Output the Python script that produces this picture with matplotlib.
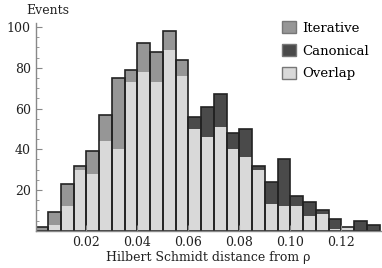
import matplotlib.pyplot as plt
import numpy as np
from matplotlib.patches import Patch
from matplotlib.ticker import MultipleLocator

plt.rcParams['font.family'] = ['DejaVu Serif']

# bin edges: 0 .. 0.135, width 0.005
bin_width = 0.005
bin_left = np.arange(27) * bin_width

iterative = [2, 9, 23, 32, 39, 57, 75, 79, 92, 88, 98, 84, 50, 46,
             51, 40, 36, 30, 13, 12, 12, 7, 8, 1, 2, 0, 0]
canonical = [0, 3, 12, 30, 28, 44, 40, 73, 78, 73, 89, 76, 56, 61,
             67, 48, 50, 32, 24, 35, 17, 14, 10, 6, 2, 5, 3]

it = np.array(iterative)
ca = np.array(canonical)
overlap = np.minimum(it, ca)
total = np.maximum(it, ca)

c_overlap = '#d9d9d9'
c_iter = '#969696'
c_canon = '#4a4a4a'

fig = plt.figure(figsize=(3.82, 2.68), dpi=100)
ax = fig.add_axes([0.093, 0.139, 0.904, 0.775])

ax.bar(bin_left, overlap, width=bin_width, align='edge', color=c_overlap, linewidth=0)
ax.bar(bin_left, it - overlap, bottom=overlap, width=bin_width, align='edge',
       color=c_iter, linewidth=0)
ax.bar(bin_left, ca - overlap, bottom=overlap, width=bin_width, align='edge',
       color=c_canon, linewidth=0)
ax.bar(bin_left, total, width=bin_width, align='edge', fill=False,
       edgecolor='#222222', linewidth=1.2)

ax.set_xlim(0, 0.1355)
ax.set_ylim(0, 102)
ax.set_xticks([0.02, 0.04, 0.06, 0.08, 0.10, 0.12])
ax.set_xticklabels(['0.02', '0.04', '0.06', '0.08', '0.10', '0.12'])
ax.set_yticks([20, 40, 60, 80, 100])
ax.yaxis.set_minor_locator(MultipleLocator(5))
ax.tick_params(which='both', direction='in', colors='#888888', labelcolor='#222222',
               labelsize=9)
ax.tick_params(which='major', length=4)
ax.tick_params(which='minor', length=2)

for s in ['top', 'right']:
    ax.spines[s].set_visible(False)
for s in ['left', 'bottom']:
    ax.spines[s].set_color('#888888')
    ax.spines[s].set_linewidth(1.0)

ax.set_xlabel('Hilbert Schmidt distance from ρ', fontsize=9, color='#222222', labelpad=2)
fig.text(0.07, 0.96, 'Events', fontsize=9, color='#222222', va='center', ha='left')

handles = [Patch(facecolor=c_iter, edgecolor='#777777', label='Iterative'),
           Patch(facecolor=c_canon, edgecolor='#777777', label='Canonical'),
           Patch(facecolor=c_overlap, edgecolor='#777777', label='Overlap')]
ax.legend(handles=handles, loc='upper right', frameon=False, fontsize=9.5,
          handlelength=1.0, handleheight=1.0, handletextpad=0.5, labelspacing=0.7,
          bbox_to_anchor=(1.0, 1.065))

fig.savefig('out.png', dpi=100)
